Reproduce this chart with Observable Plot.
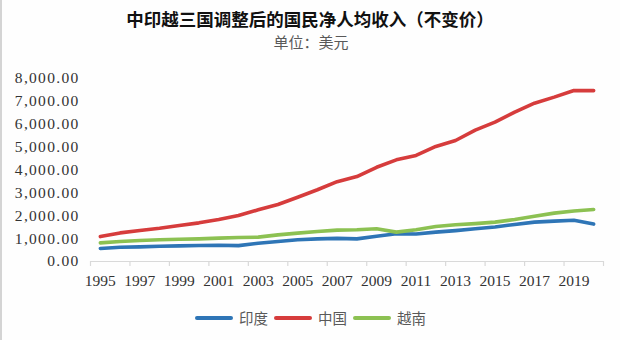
<!DOCTYPE html>
<html>
<head>
<meta charset="utf-8">
<script src="https://cdn.jsdelivr.net/npm/d3@7"></script>
<script src="https://cdn.jsdelivr.net/npm/@observablehq/plot@0.6"></script>
<style>
  html, body { margin: 0; padding: 0; background: #ffffff; }
  #wrap { position: relative; width: 620px; height: 340px; overflow: hidden; background: #fefefe; }
  #edge { position: absolute; left: 0; top: 0; width: 2px; height: 340px; background: #d4d4d4; }
  #title { position: absolute; left: 0; width: 620px; top: 9px; text-align: center;
           font-family: "Noto Sans CJK SC", sans-serif; font-weight: 700; font-size: 17.5px; line-height: 20px; color: #111; }
  #subtitle { position: absolute; left: 0; width: 622px; top: 33px; text-align: center;
           font-family: "Noto Sans CJK SC", sans-serif; font-size: 15px; line-height: 18px; color: #595959; }
  #chart { position: absolute; left: 0; top: 56px; }
  #legend { position: absolute; left: 0; top: 310px; width: 620px; height: 16px; }
  .swatch { position: absolute; top: 6px; width: 38px; height: 4px; border-radius: 2px; }
  .ltext { position: absolute; top: 0; font-family: "Noto Sans CJK SC", sans-serif; font-size: 14.5px; line-height: 16px; color: #595959; white-space: nowrap; }
  g[aria-label="y-axis tick label"] text { letter-spacing: 1.3px; }
</style>
</head>
<body>
<div id="wrap">
  <div id="edge"></div>
  <div id="title">中印越三国调整后的国民净人均收入（不变价）</div>
  <div id="subtitle">单位：美元</div>
  <div id="chart"></div>
  <div id="legend"></div>
</div>
<script>
// ---- data ----
const years = [1995,1996,1997,1998,1999,2000,2001,2002,2003,2004,2005,2006,2007,2008,2009,2010,2011,2012,2013,2014,2015,2016,2017,2018,2019,2020];
const india   = [570,625,640,670,685,700,710,695,800,875,950,990,1010,990,1105,1210,1205,1285,1350,1430,1510,1620,1720,1765,1800,1635];
const china   = [1090,1250,1355,1455,1575,1690,1835,2010,2260,2490,2810,3135,3490,3715,4120,4445,4635,5030,5290,5745,6090,6530,6920,7185,7475,7470];
const vietnam = [815,875,920,950,975,990,1020,1050,1065,1165,1240,1310,1370,1385,1430,1285,1385,1530,1605,1655,1720,1835,1980,2115,2210,2275];
const seriesNames = ["印度","中国","越南"];
const seriesColors = ["#2E75B6","#D63C3C","#8CC152"];
const yTicks = [0,1000,2000,3000,4000,5000,6000,7000,8000];
const xLabelYears = [1995,1997,1999,2001,2003,2005,2007,2009,2011,2013,2015,2017,2019];

// long table built from the arrays
const seriesValues = [india, china, vietnam];
const rows = [];
seriesNames.forEach((name, s) => {
  years.forEach((yr, i) => rows.push({year: yr, value: seriesValues[s][i], country: name}));
});
// category boundaries (tick marks every two categories)
const boundaries = d3.range(0, years.length + 1, 2).map(k => years[0] - 0.5 + k);

const plot = Plot.plot({
  width: 620,
  height: 240,
  marginLeft: 90,
  marginRight: 17,
  marginTop: 22,
  marginBottom: 35,
  style: {fontFamily: "'Liberation Serif', serif", fontSize: "15.5px", color: "#333", background: "transparent"},
  x: {domain: [years[0] - 0.5, years[years.length - 1] + 0.5]},
  y: {domain: [0, 8000]},
  color: {domain: seriesNames, range: seriesColors},
  marks: [
    Plot.ruleY([0], {stroke: "#d9d9d9", strokeWidth: 1.2}),
    Plot.axisX({ticks: boundaries, tickSize: 5, stroke: "#d9d9d9", strokeWidth: 1.2, fill: "none", label: null}),
    Plot.axisX({ticks: xLabelYears, tickSize: 0, tickPadding: 13, tickFormat: d => String(d), fill: "#333", label: null}),
    Plot.axisY({ticks: yTicks, tickSize: 0, tickPadding: 11, tickFormat: d3.format(",.2f"), fill: "#333", label: null}),
    Plot.line(rows, {x: "year", y: "value", z: "country", stroke: "country", strokeWidth: 3.6, strokeLinejoin: "round", strokeLinecap: "round"})
  ]
});
document.getElementById("chart").appendChild(plot);

// legend
const legend = document.getElementById("legend");
const itemLefts = [195, 274, 353];
seriesNames.forEach((name, i) => {
  const sw = document.createElement("div");
  sw.className = "swatch";
  sw.style.left = itemLefts[i] + "px";
  sw.style.background = seriesColors[i];
  legend.appendChild(sw);
  const t = document.createElement("div");
  t.className = "ltext";
  t.style.left = (itemLefts[i] + 44) + "px";
  t.textContent = name;
  legend.appendChild(t);
});
</script>
</body>
</html>
